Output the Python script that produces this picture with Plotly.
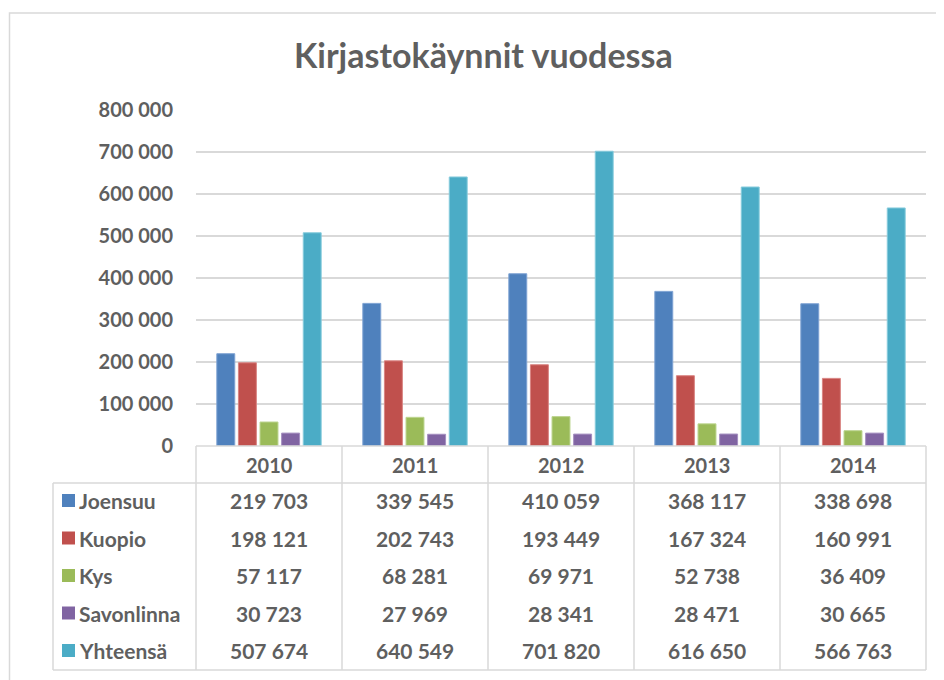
import plotly.graph_objects as go

years = ["2010", "2011", "2012", "2013", "2014"]
series_names = ["Joensuu", "Kuopio", "Kys", "Savonlinna", "Yhteensä"]
joensuu = [219703, 339545, 410059, 368117, 338698]
kuopio = [198121, 202743, 193449, 167324, 160991]
kys = [57117, 68281, 69971, 52738, 36409]
savonlinna = [30723, 27969, 28341, 28471, 30665]
yhteensa = [507674, 640549, 701820, 616650, 566763]
y_ticks = [0, 100000, 200000, 300000, 400000, 500000, 600000, 700000, 800000]
colors = ["#4f81bd", "#c0504d", "#9bbb59", "#8064a2", "#4bacc6"]
edge_colors = ["#7ea2d3", "#d98482", "#bcd48f", "#a48fc0", "#86cbdc"]

all_series = [joensuu, kuopio, kys, savonlinna, yhteensa]

OFF = 8  # page body margin
W, H = 944 - OFF, 680 - OFF
L, R, T, B = 196 - OFF, 926 - OFF, 110 - OFF, 446 - OFF
TXT = "#5f5f5f"
GRID = "#d9d9d9"
FONT = "Lato"


def px2x(px):
    return (px - OFF - L) / (R - L)


def py2y(py):
    return (B - (py - OFF)) / (B - T)


def fmt(v):
    return f"{v:,}".replace(",", " ")


fig = go.Figure()
for name, vals, c, ec in zip(series_names, all_series, colors, edge_colors):
    fig.add_trace(go.Bar(x=years, y=vals, name=name, marker=dict(color=c, line=dict(color=ec, width=1))))

shapes = []
annotations = []

# outer chart border
shapes.append(dict(type="rect", xref="paper", yref="paper", x0=px2x(9.5), x1=px2x(960), y0=py2y(700), y1=py2y(13),
                   line=dict(color=GRID, width=1.5), fillcolor="rgba(0,0,0,0)", layer="below"))

row_h = 37.5
header_top, header_bot = 446, 483
table_bot = 670
left_x = 53
col_edges = [196 + 146 * i for i in range(6)]

line_style = dict(color=GRID, width=1.5)
shapes.append(dict(type="line", xref="paper", yref="paper", x0=px2x(196), x1=px2x(926), y0=py2y(header_top), y1=py2y(header_top), line=line_style))
shapes.append(dict(type="line", xref="paper", yref="paper", x0=px2x(left_x), x1=px2x(926), y0=py2y(header_bot), y1=py2y(header_bot), line=line_style))
shapes.append(dict(type="line", xref="paper", yref="paper", x0=px2x(left_x), x1=px2x(926), y0=py2y(table_bot), y1=py2y(table_bot), line=line_style))
for ce in col_edges:
    shapes.append(dict(type="line", xref="paper", yref="paper", x0=px2x(ce), x1=px2x(ce), y0=py2y(header_top), y1=py2y(table_bot), line=line_style))
shapes.append(dict(type="line", xref="paper", yref="paper", x0=px2x(left_x), x1=px2x(left_x), y0=py2y(header_bot), y1=py2y(table_bot), line=line_style))

font = dict(family=FONT, size=21, color=TXT, weight="bold")
hfont = dict(family=FONT, size=20, color=TXT, weight="bold")
for j, yr in enumerate(years):
    annotations.append(dict(x=j, xref="x", y=py2y((header_top + header_bot) / 2), yref="paper",
                            text=yr, showarrow=False, font=hfont, xanchor="center", yanchor="middle"))
for i, (name, vals, c) in enumerate(zip(series_names, all_series, colors)):
    cy = header_bot + 17.5 + i * row_h
    shapes.append(dict(type="rect", xref="paper", yref="paper", x0=px2x(62), x1=px2x(75), y0=py2y(cy + 6.5), y1=py2y(cy - 6.5),
                       fillcolor=c, line=dict(width=0)))
    annotations.append(dict(x=px2x(77), xref="paper", y=py2y(cy), yref="paper", text=name, showarrow=False,
                            font=font, xanchor="left", yanchor="middle"))
    for j, v in enumerate(vals):
        annotations.append(dict(x=j, xref="x", y=py2y(cy), yref="paper", text=fmt(v), showarrow=False,
                                font=font, xanchor="center", yanchor="middle"))

annotations.append(dict(x=px2x(483), xref="paper", y=py2y(55), yref="paper", text="Kirjastokäynnit vuodessa",
                        showarrow=False, font=dict(family=FONT, size=34, color=TXT, weight="bold"),
                        xanchor="center", yanchor="middle"))

fig.update_layout(
    width=W, height=H,
    margin=dict(l=L, r=W - R, t=T, b=H - B, pad=0),
    paper_bgcolor="white", plot_bgcolor="white",
    showlegend=False,
    barmode="group", bargap=0.26, bargroupgap=0.17,
    separators=", ",
    shapes=shapes, annotations=annotations,
    font=dict(family=FONT, color=TXT),
)
fig.update_xaxes(type="category", range=[-0.5, 4.5], showticklabels=False, showgrid=False, zeroline=False, showline=False, ticks="")
fig.update_yaxes(range=[0, 800000], tickvals=y_ticks, tickformat=",d", showgrid=True, gridcolor=GRID, gridwidth=1.5,
                 zeroline=False, showline=False, ticks="", ticklabelstandoff=22,
                 tickfont=dict(family=FONT, size=20, color=TXT, weight="bold"))

fig.write_html("out.html")
